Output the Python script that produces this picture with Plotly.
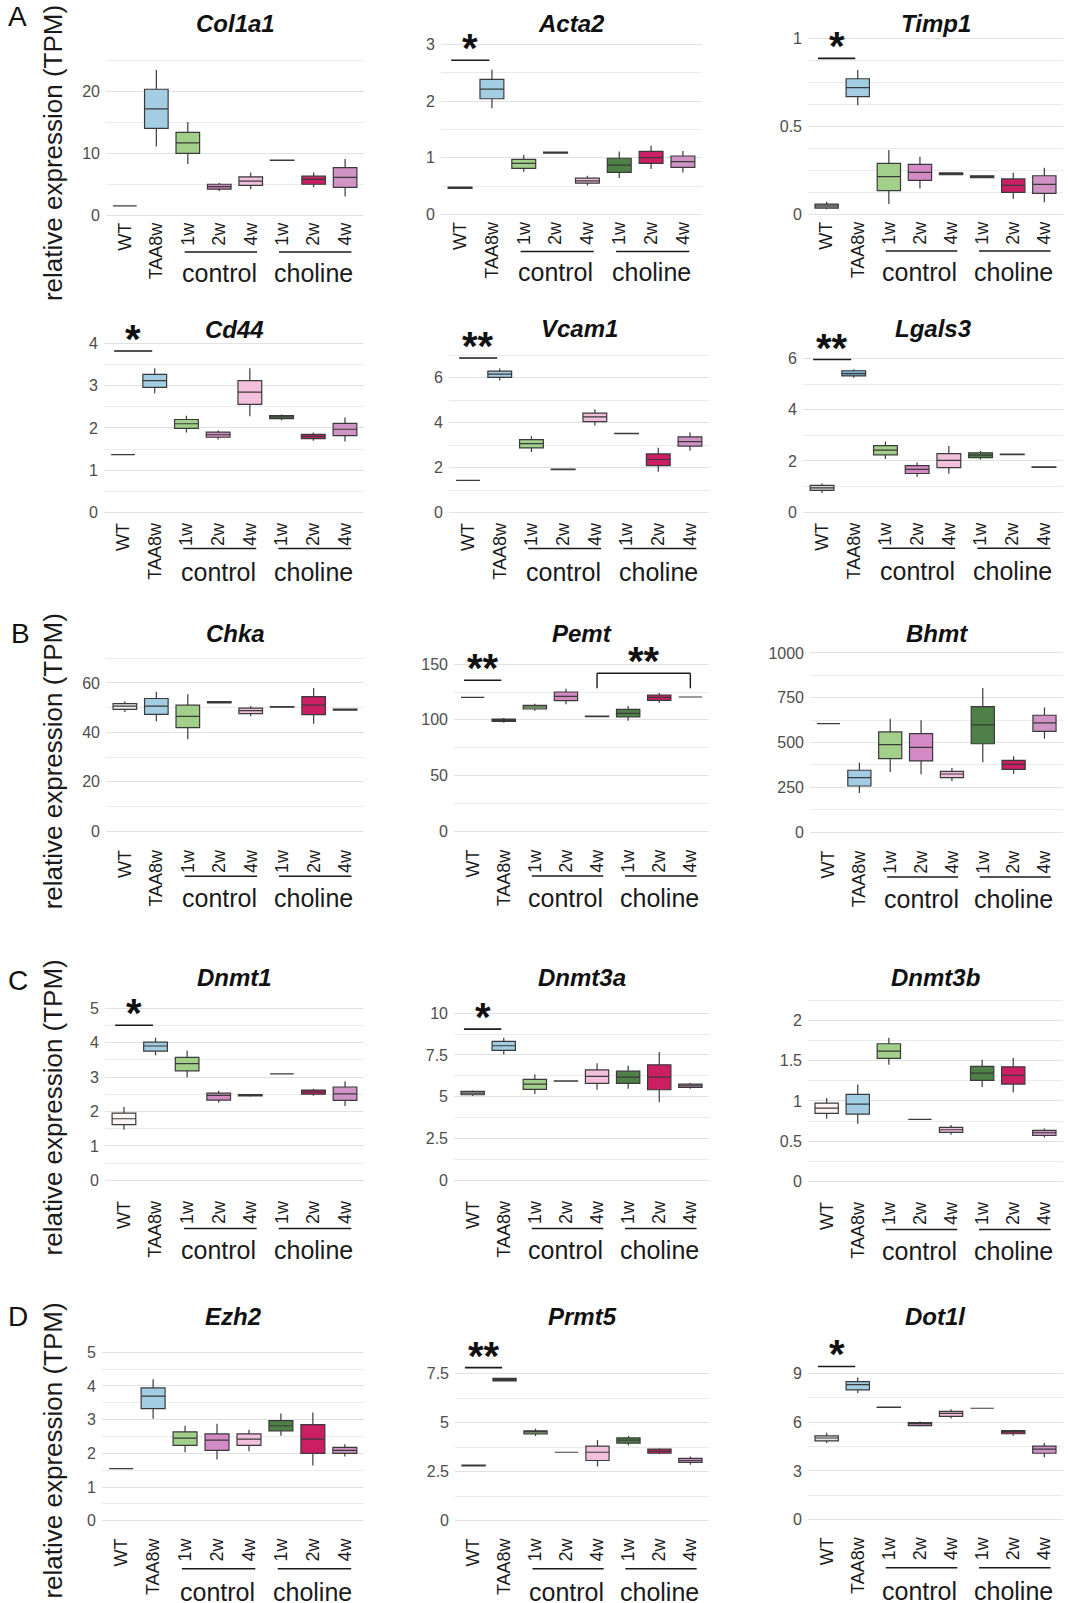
import plotly.graph_objects as go

W, H = 1068, 1603
FONT = "Liberation Sans, Arial, sans-serif"
# measured vertical offset/scale between layout pixels and the captured page
Y_OFF, Y_SCALE = 7.0, 0.9915

# ---------------- data ----------------
CATEGORIES = ["WT", "TAA8w", "control 1w", "control 2w", "control 4w",
              "choline 1w", "choline 2w", "choline 4w"]
TICK_LABELS = ["WT", "TAA8w", "1w", "2w", "4w", "1w", "2w", "4w"]
POSITIONS = [1, 2, 3, 4, 5, 6, 7, 8]
GROUP_LABELS = ["control", "choline"]
GROUP_CENTERS = [4, 7]
GROUP_SPANS = [(2.9, 5.2), (5.9, 8.2)]
FILL = ["#e6e6e6", "#a3cde3", "#a2cf89", "#d48ac4", "#f2bfdd",
        "#4f8048", "#cc1f63", "#cf93c6"]

GENES = ["Col1a1", "Acta2", "Timp1", "Cd44", "Vcam1", "Lgals3",
         "Chka", "Pemt", "Bhmt", "Dnmt1", "Dnmt3a", "Dnmt3b",
         "Ezh2", "Prmt5", "Dot1l"]
WT_FILL = ["#e6e6e6", "#e6e6e6", "#9b9b9b", "#e6e6e6", "#e6e6e6", "#d4d4d4",
           "#efefef", "#e6e6e6", "#e6e6e6", "#fcf6f6", "#c4c4c4", "#fdf3f3",
           "#e6e6e6", "#e6e6e6", "#e6e6e6"]
TAA_FILL = ["#a3cde3"] * 5 + ["#7db1cf"] + ["#a3cde3"] * 9

# (lower whisker, q1, median, q3, upper whisker) per group
COL1A1 = [(1.5, 1.5, 1.5, 1.5, 1.5), (11.1, 14.05, 17.2, 20.4, 23.5), (8.3, 10.0, 11.7, 13.4, 15.1),
          (3.9, 4.2, 4.6, 5.0, 5.2), (4.2, 4.8, 5.5, 6.2, 6.9), (8.85, 8.87, 8.9, 8.93, 8.95),
          (4.5, 5.0, 5.8, 6.3, 6.9), (3.0, 4.5, 6.1, 7.7, 9.1)]
ACTA2 = [(0.46, 0.46, 0.47, 0.48, 0.48), (1.87, 2.04, 2.21, 2.38, 2.55), (0.75, 0.81, 0.9, 0.97, 1.05),
         (1.08, 1.08, 1.09, 1.10, 1.10), (0.51, 0.55, 0.59, 0.64, 0.68), (0.64, 0.74, 0.87, 0.99, 1.11),
         (0.8, 0.9, 1.0, 1.11, 1.21), (0.74, 0.83, 0.93, 1.03, 1.12)]
TIMP1 = [(0.027, 0.034, 0.046, 0.057, 0.07), (0.619, 0.668, 0.72, 0.77, 0.82), (0.057, 0.133, 0.213, 0.288, 0.364),
         (0.146, 0.192, 0.237, 0.283, 0.326), (0.222, 0.225, 0.23, 0.235, 0.238), (0.205, 0.208, 0.213, 0.218, 0.22),
         (0.087, 0.123, 0.163, 0.2, 0.235), (0.068, 0.118, 0.169, 0.218, 0.264)]
CD44 = [(1.37, 1.37, 1.37, 1.37, 1.37), (2.82, 2.96, 3.12, 3.27, 3.41), (1.89, 1.99, 2.1, 2.2, 2.29),
        (1.73, 1.78, 1.84, 1.9, 1.94), (2.28, 2.56, 2.85, 3.12, 3.41), (2.18, 2.22, 2.26, 2.29, 2.32),
        (1.7, 1.75, 1.8, 1.85, 1.89), (1.68, 1.82, 1.97, 2.11, 2.25)]
VCAM1 = [(1.43, 1.43, 1.43, 1.43, 1.43), (5.88, 6.02, 6.16, 6.3, 6.42), (2.7, 2.88, 3.07, 3.25, 3.4),
         (1.91, 1.91, 1.92, 1.93, 1.93), (3.88, 4.05, 4.26, 4.43, 4.6), (3.5, 3.51, 3.52, 3.53, 3.54),
         (1.81, 2.09, 2.36, 2.61, 2.88), (2.75, 2.96, 3.16, 3.37, 3.56)]
LGALS3 = [(0.75, 0.85, 0.95, 1.05, 1.12), (5.25, 5.32, 5.41, 5.52, 5.58), (2.08, 2.24, 2.42, 2.6, 2.76),
          (1.38, 1.51, 1.67, 1.82, 1.94), (1.5, 1.74, 2.02, 2.29, 2.58), (2.06, 2.13, 2.23, 2.32, 2.39),
          (2.25, 2.25, 2.26, 2.27, 2.27), (1.74, 1.75, 1.76, 1.77, 1.78)]
CHKA = [(48.3, 49.3, 50.6, 51.6, 52.6), (44.5, 47.3, 50.6, 53.7, 56.4), (37.2, 41.9, 46.5, 51.0, 55.4),
        (51.8, 51.9, 52.2, 52.5, 52.6), (46.5, 47.6, 48.8, 49.8, 50.7), (50.1, 50.2, 50.3, 50.4, 50.5),
        (43.5, 47.2, 51.0, 54.5, 58.0), (48.9, 49.0, 49.2, 49.4, 49.5)]
PEMT = [(120.3, 120.3, 120.3, 120.3, 120.3), (97.5, 98.6, 99.6, 100.6, 101.7), (108.3, 109.8, 111.6, 113.1, 114.6),
        (114.0, 117.3, 121.2, 125.1, 128.1), (102.8, 102.9, 103.2, 103.5, 103.6), (99.3, 102.6, 105.9, 109.5, 112.5),
        (115.2, 117.6, 120.3, 122.4, 124.2), (120.6, 120.6, 120.6, 120.6, 120.6)]
BHMT = [(605, 605, 605, 605, 605), (218, 257, 304, 345, 387), (335, 410, 488, 559, 633),
        (322, 397, 473, 549, 624), (285, 304, 324, 339, 358), (389, 493, 598, 700, 804),
        (326, 350, 378, 400, 423), (521, 562, 609, 652, 695)]
DNMT1 = [(1.47, 1.62, 1.79, 1.95, 2.13), (3.63, 3.75, 3.9, 4.01, 4.14), (2.99, 3.18, 3.39, 3.57, 3.76),
         (2.25, 2.33, 2.47, 2.53, 2.6), (2.43, 2.45, 2.47, 2.49, 2.5), (3.09, 3.09, 3.09, 3.09, 3.09),
         (2.46, 2.5, 2.56, 2.62, 2.66), (2.16, 2.32, 2.51, 2.71, 2.88)]
DNMT3A = [(5.04, 5.12, 5.22, 5.32, 5.38), (7.53, 7.77, 8.05, 8.31, 8.53), (5.16, 5.44, 5.76, 6.04, 6.33),
          (5.92, 5.93, 5.94, 5.95, 5.96), (5.42, 5.8, 6.22, 6.61, 7.01), (5.48, 5.8, 6.18, 6.53, 6.85),
          (4.68, 5.42, 6.18, 6.91, 7.67), (5.48, 5.56, 5.66, 5.76, 5.82)]
DNMT3B = [(0.778, 0.845, 0.911, 0.973, 1.035), (0.716, 0.836, 0.961, 1.081, 1.205), (1.449, 1.528, 1.619, 1.71, 1.785),
          (0.77, 0.77, 0.77, 0.77, 0.77), (0.58, 0.609, 0.642, 0.671, 0.7), (1.172, 1.255, 1.346, 1.429, 1.511),
          (1.106, 1.209, 1.317, 1.424, 1.532), (0.547, 0.571, 0.605, 0.634, 0.658)]
EZH2 = [(1.55, 1.55, 1.55, 1.55, 1.55), (3.03, 3.33, 3.7, 3.94, 4.2), (2.03, 2.24, 2.45, 2.64, 2.82),
        (1.82, 2.09, 2.39, 2.58, 2.88), (2.06, 2.24, 2.42, 2.58, 2.7), (2.52, 2.67, 2.82, 2.97, 3.18),
        (1.64, 2.0, 2.42, 2.85, 3.21), (1.91, 2.0, 2.09, 2.18, 2.27)]
PRMT5 = [(2.78, 2.79, 2.81, 2.83, 2.84), (7.1, 7.13, 7.19, 7.25, 7.29), (4.32, 4.43, 4.53, 4.58, 4.69),
         (3.49, 3.49, 3.49, 3.49, 3.49), (2.76, 3.07, 3.49, 3.8, 4.11), (3.85, 3.96, 4.11, 4.22, 4.32),
         (3.39, 3.44, 3.54, 3.65, 3.7), (2.86, 2.97, 3.07, 3.18, 3.28)]
DOT1L = [(4.72, 4.85, 5.03, 5.16, 5.35), (7.8, 7.99, 8.31, 8.5, 8.75), (6.9, 6.91, 6.92, 6.93, 6.94),
         (5.73, 5.79, 5.92, 5.98, 6.04), (6.23, 6.36, 6.55, 6.67, 6.8), (6.86, 6.86, 6.86, 6.86, 6.86),
         (5.16, 5.29, 5.41, 5.48, 5.54), (3.84, 4.09, 4.34, 4.53, 4.72)]
STATS = [COL1A1, ACTA2, TIMP1, CD44, VCAM1, LGALS3, CHKA, PEMT, BHMT,
         DNMT1, DNMT3A, DNMT3B, EZH2, PRMT5, DOT1L]

# significance: gene -> (stars, bar height) for WT vs TAA8w
SIG_WT_TAA = {"Acta2": ("*", 2.72), "Timp1": ("*", 0.886), "Cd44": ("*", 3.82),
              "Vcam1": ("**", 6.88), "Lgals3": ("**", 5.96), "Pemt": ("**", 135.6),
              "Dnmt1": ("*", 4.5), "Dnmt3a": ("*", 9.04), "Prmt5": ("**", 7.8),
              "Dot1l": ("*", 9.43)}
# Pemt control 4w vs choline 4w bracket: (x from, x to, top, leg bottom)
PEMT_BRACKET = (5, 8, 142, 128.4)

# ---------------- layout geometry (target page pixels) ----------------
# x domain px, y px of value 0, px per unit, axis top, major step, minor step
PANEL_GEOM = [
    ((106, 364), 215.0, 6.167, 26, 10, 5),
    ((441, 702), 214.3, 56.67, 3.05, 1, 0.5),
    ((808, 1063), 214.0, 175.67, 1.02, 0.5, 0.125),
    ((104, 364), 512.3, 42.25, 4.05, 1, 0.5),
    ((449, 709), 512.3, 22.44, 7.1, 2, 1),
    ((803, 1063), 512.0, 25.61, 6.3, 2, 1),
    ((106, 364), 831.0, 2.472, 71, 20, 10),
    ((454, 709), 830.7, 1.111, 152, 50, 25),
    ((810, 1063), 831.7, 0.179, 1010, 250, 125),
    ((105, 364), 1180.0, 34.47, 5.05, 1, 0.5),
    ((454, 709), 1180.0, 16.73, 10.2, 2.5, 1.25),
    ((808, 1063), 1181.0, 80.5, 2.27, 0.5, 0.25),
    ((102, 364), 1520.2, 33.7, 5.1, 1, 0.5),
    ((455, 709), 1520.2, 19.63, 8.1, 2.5, 1.25),
    ((808, 1063), 1519.1, 16.24, 9.7, 3, 1.5),
]
ROW_PAD = [3, 6, 14, 16, 13]          # px below zero line to axis bottom
ROW_LINE = [37, 36, 45, 48, 48]       # px below zero line of group underline
ROW_TEXT = [58, 59, 67, 70, 71]       # px below zero line of group text
ROW_TITLE = [24, 329, 633, 977, 1316]
XR = (0.4, 8.6)


def cy(t):
    """target page y -> layout y"""
    return (t - Y_OFF) / Y_SCALE


def fx(px):
    return px / W


def fy(py):
    return 1 - cy(py) / H


def xfrac(v):
    return (v - XR[0]) / (XR[1] - XR[0])


fig = go.Figure()
layout = {}
annotations = []
shapes = []

for i, gene in enumerate(GENES):
    k = i + 1
    xa = "x" if k == 1 else f"x{k}"
    ya = "y" if k == 1 else f"y{k}"
    row = i // 3
    (xl, xr), y0, ppu, hi, major, minor = PANEL_GEOM[i]
    pad = ROW_PAD[row]
    lo = -pad / ppu
    bottom_px = y0 + pad
    top_px = y0 - hi * ppu
    stats = STATS[i]
    fills = list(FILL)
    fills[0] = WT_FILL[i]
    fills[1] = TAA_FILL[i]

    for g in range(8):
        lw, q1, md, q3, uw = stats[g]
        fig.add_trace(go.Box(
            x=[POSITIONS[g]], q1=[q1], median=[md], q3=[q3],
            lowerfence=[lw], upperfence=[uw], orientation="v",
            name=CATEGORIES[g], fillcolor=fills[g],
            line=dict(color="#3a3a3a", width=1.2), width=0.75,
            whiskerwidth=0, boxpoints=False, showlegend=False,
            hoverinfo="skip", xaxis=xa, yaxis=ya))

    layout["xaxis" if k == 1 else f"xaxis{k}"] = dict(
        domain=[fx(xl), fx(xr)], anchor=ya, range=list(XR),
        tickvals=POSITIONS, ticktext=TICK_LABELS, tickangle=-90,
        showgrid=False, zeroline=False, showline=False, ticks="",
        tickfont=dict(family=FONT, size=18, color="#1a1a1a"), fixedrange=True)
    layout["yaxis" if k == 1 else f"yaxis{k}"] = dict(
        domain=[fy(bottom_px), fy(top_px)], anchor=xa, range=[lo, hi],
        tick0=0, dtick=major, showgrid=True, gridcolor="#e1e1e1", gridwidth=1.4,
        minor=dict(tick0=0, dtick=minor, showgrid=True, gridcolor="#ebebeb", gridwidth=1),
        zeroline=False, showline=False, ticks="", ticklabelstandoff=5,
        tickfont=dict(family=FONT, size=16, color="#4d4d4d"), fixedrange=True)

    # title
    annotations.append(dict(
        text=f"<b><i>{gene}</i></b>", xref=f"{xa} domain", yref=f"{ya} domain",
        x=0.5, y=1, yanchor="middle", xanchor="center",
        yshift=cy(top_px) - cy(ROW_TITLE[row]), showarrow=False,
        font=dict(family=FONT, size=24, color="#111111")))

    # group underlines + labels
    for (a, b), lab, c in zip(GROUP_SPANS, GROUP_LABELS, GROUP_CENTERS):
        off = -(ROW_LINE[row] - pad)
        shapes.append(dict(
            type="line", xref=f"{xa} domain", yref=f"{ya} domain",
            x0=xfrac(a), x1=xfrac(b), ysizemode="pixel", yanchor=0,
            y0=off, y1=off, line=dict(color="#1a1a1a", width=1.5)))
        annotations.append(dict(
            text=lab, xref=xa, yref=f"{ya} domain", x=c, y=0,
            xanchor="center", yanchor="middle",
            yshift=-(ROW_TEXT[row] - pad), showarrow=False,
            font=dict(family=FONT, size=25, color="#1a1a1a")))

    # significance WT vs TAA8w
    if gene in SIG_WT_TAA:
        stars, v = SIG_WT_TAA[gene]
        fyv = (v - lo) / (hi - lo)
        shapes.append(dict(
            type="line", xref=f"{xa} domain", yref=f"{ya} domain",
            x0=xfrac(0.72), x1=xfrac(1.92), y0=fyv, y1=fyv,
            line=dict(color="#1a1a1a", width=1.6)))
        annotations.append(dict(
            text=f"<b>{stars}</b>", xref=xa, yref=ya, x=1.32, y=v, xanchor="center",
            yanchor="middle", yshift=12, showarrow=False,
            font=dict(family=FONT, size=40, color="#111111")))

    if gene == "Pemt":
        a, b, top, leg = PEMT_BRACKET
        ft = (top - lo) / (hi - lo)
        fl = (leg - lo) / (hi - lo)
        for seg in [(a, ft, b, ft), (a, ft, a, fl), (b, ft, b, fl)]:
            shapes.append(dict(
                type="line", xref=f"{xa} domain", yref=f"{ya} domain",
                x0=xfrac(seg[0]), y0=seg[1], x1=xfrac(seg[2]), y1=seg[3],
                line=dict(color="#1a1a1a", width=1.4)))
        annotations.append(dict(
            text="<b>**</b>", xref=xa, yref=ya, x=(a + b) / 2, y=top, xanchor="center",
            yanchor="middle", yshift=12, showarrow=False,
            font=dict(family=FONT, size=40, color="#111111")))

# y-axis titles and panel letters
YTITLE_Y = [153, 761, 1107, 1450]
for yc in YTITLE_Y:
    annotations.append(dict(
        text="relative expression (TPM)", xref="paper", yref="paper",
        x=fx(53), y=fy(yc), xanchor="center", yanchor="middle",
        textangle=-90, showarrow=False,
        font=dict(family=FONT, size=26, color="#1a1a1a")))
LETTERS = [("A", 17, 16), ("B", 20, 633), ("C", 18, 980), ("D", 18, 1316)]
for t, lx, ly in LETTERS:
    annotations.append(dict(
        text=t, xref="paper", yref="paper", x=fx(lx), y=fy(ly),
        xanchor="center", yanchor="middle", showarrow=False,
        font=dict(family=FONT, size=28, color="#111111")))

fig.update_layout(
    width=W, height=H, autosize=False,
    margin=dict(l=0, r=0, t=0, b=0, pad=0),
    paper_bgcolor="white", plot_bgcolor="white",
    showlegend=False, annotations=annotations, shapes=shapes,
    font=dict(family=FONT),
    **layout)

fig.write_html("out.html", config={"displayModeBar": False},
               post_script="document.body.style.margin='0px';document.body.style.overflow='hidden';")
